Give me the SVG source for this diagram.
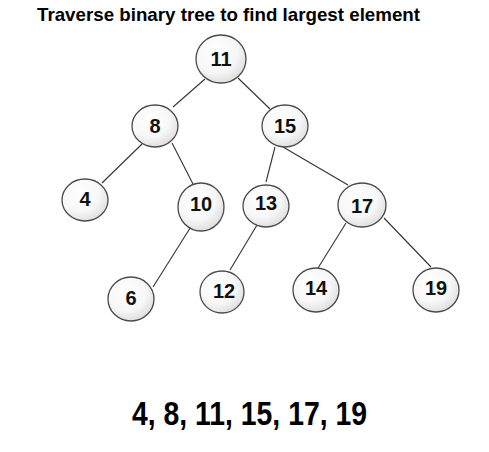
<svg xmlns="http://www.w3.org/2000/svg" width="489" height="452" viewBox="0 0 489 452">
<defs>
<radialGradient id="g" cx="0.4" cy="0.35" r="0.7">
<stop offset="0" stop-color="#ffffff"/>
<stop offset="0.6" stop-color="#f7f7f7"/>
<stop offset="1" stop-color="#dcdcdc"/>
</radialGradient>
</defs>
<style>
.n ellipse{fill:url(#g);stroke:#4a4a4a;stroke-width:1.3}
.n text{font-family:"Liberation Sans",Arial,sans-serif;font-weight:bold;font-size:20px;fill:#111;text-anchor:middle;dominant-baseline:central}
.e line{stroke:#333;stroke-width:1.1}
.t{font-family:"Liberation Sans",Arial,sans-serif;font-weight:bold;fill:#000}
</style>
<rect width="489" height="452" fill="#fff"/>
<text class="t" x="37" y="21" font-size="19" textLength="383" lengthAdjust="spacingAndGlyphs">Traverse binary tree to find largest element</text>
<g id="connectors" class="e">
<line x1="205" y1="79" x2="173" y2="107"/>
<line x1="238" y1="78" x2="270" y2="109"/>
<line x1="142" y1="144" x2="102" y2="183"/>
<line x1="172" y1="143" x2="193" y2="184"/>
<line x1="275" y1="147" x2="266" y2="182"/>
<line x1="283" y1="147" x2="348" y2="185"/>
<line x1="192" y1="225" x2="153" y2="287"/>
<line x1="257" y1="225" x2="230" y2="270"/>
<line x1="346" y1="223" x2="318" y2="268"/>
<line x1="384" y1="218" x2="431" y2="267"/>
</g>
<g id="n11" class="n"><ellipse cx="221" cy="59" rx="25" ry="24"/><text x="221" y="59">11</text></g>
<g id="n8" class="n"><ellipse cx="155" cy="126" rx="23" ry="21"/><text x="155" y="126">8</text></g>
<g id="n15" class="n"><ellipse cx="285" cy="126" rx="23" ry="21"/><text x="285" y="126">15</text></g>
<g id="n4" class="n"><ellipse cx="85" cy="200" rx="23" ry="21"/><text x="85" y="199">4</text></g>
<g id="n10" class="n"><ellipse cx="201" cy="207" rx="23" ry="24"/><text x="201" y="204">10</text></g>
<g id="n13" class="n"><ellipse cx="266" cy="206" rx="23" ry="21"/><text x="266" y="203">13</text></g>
<g id="n17" class="n"><ellipse cx="362" cy="205" rx="24" ry="22"/><text x="362" y="206">17</text></g>
<g id="n6" class="n"><ellipse cx="131" cy="299" rx="23" ry="22"/><text x="131" y="298">6</text></g>
<g id="n12" class="n"><ellipse cx="222" cy="292" rx="22" ry="21"/><text x="224" y="291">12</text></g>
<g id="n14" class="n"><ellipse cx="316" cy="290" rx="23" ry="22"/><text x="316" y="288">14</text></g>
<g id="n19" class="n"><ellipse cx="436" cy="290" rx="23" ry="22"/><text x="436" y="288">19</text></g>
<text class="t" x="132" y="425" font-size="33" textLength="235" lengthAdjust="spacingAndGlyphs">4, 8, 11, 15, 17, 19</text>
</svg>
